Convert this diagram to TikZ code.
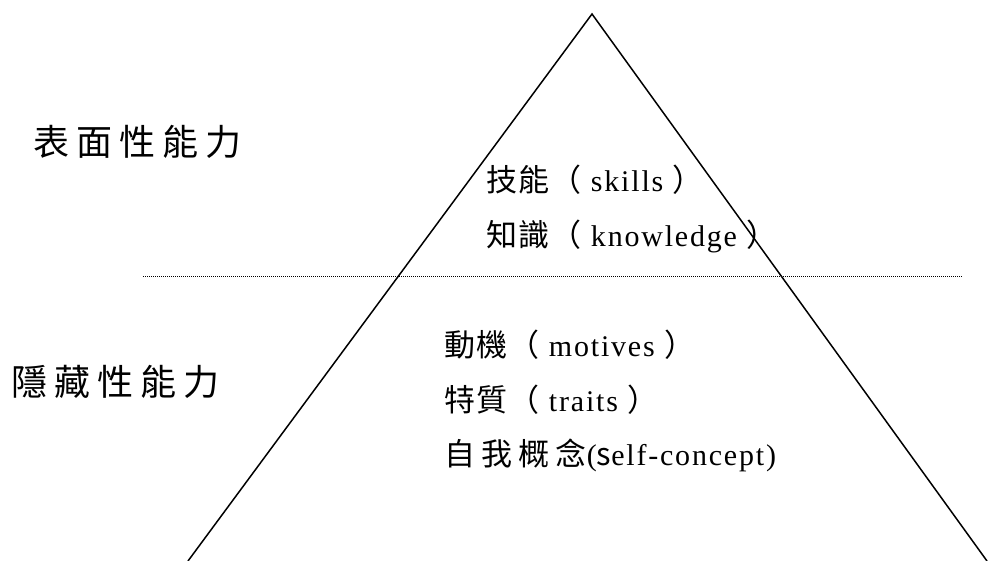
\documentclass[tikz,border=0pt]{standalone}
\usepackage{fontspec}
\setmainfont[LetterSpace=6]{Liberation Serif}
\newfontfamily\cjk[LetterSpace=4]{Noto Sans CJK TC}
\newfontfamily\cjkwide[LetterSpace=20]{Noto Sans CJK TC}
\newfontfamily\cjkbig[LetterSpace=20]{Noto Sans CJK TC}
\newcommand\cjtext[1]{{\fontsize{31}{34}\selectfont\cjk #1}}
\begin{document}
\begin{tikzpicture}[x=1pt,y=-1pt,
  edge/.style={line width=1.5pt, line join=miter},
  divider/.style={line width=0.9pt, dash pattern=on 0.9pt off 1.1pt},
  biglabel/.style={anchor=base west, inner sep=0pt, font=\fontsize{36}{42}\selectfont\cjkbig},
  item/.style={anchor=base west, inner sep=0pt, font=\fontsize{30}{34}\selectfont}
]
\useasboundingbox (0,0) rectangle (989,561);
\coordinate (apex) at (592,14);
\coordinate (bl) at (188,561);
\coordinate (br) at (987,561);
\coordinate (dl) at (143,276);
\coordinate (dr) at (962,276);
\draw[edge] (bl) -- (apex) -- (br);
\draw[divider] (dl) -- (dr);
\node[biglabel] (surface) at (33,156) {表面性能力};
\node[biglabel] (hidden) at (11,396) {隱藏性能力};
\node[item] (skills) at (486,192) {\cjtext{技能（} skills \cjtext{）}};
\node[item] (knowledge) at (486,247) {\cjtext{知識（} knowledge \cjtext{）}};
\node[item] (motives) at (444,357) {\cjtext{動機（} motives \cjtext{）}};
\node[item] (traits) at (444,412) {\cjtext{特質（} traits \cjtext{）}};
\node[item] (self) at (444,466) {{\fontsize{31}{34}\selectfont\cjkwide 自我概念}(\cjtext{s}elf-concept)};
\end{tikzpicture}
\end{document}
